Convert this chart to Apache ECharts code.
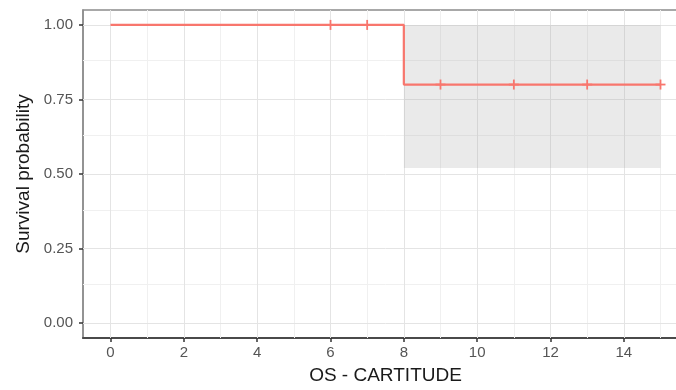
<!DOCTYPE html>
<html>
<head>
<meta charset="utf-8">
<script src="https://cdn.jsdelivr.net/npm/echarts@6/dist/echarts.min.js"></script>
<style>
html,body{margin:0;padding:0;background:#fff;overflow:hidden;width:676px;height:390px;}
#chart{width:700px;height:390px;}
</style>
</head>
<body>
<div id="chart"></div>
<script>
// Kaplan-Meier step curve
const stepTimes = [0, 8, 15];
const stepSurv = [1.0, 0.8, 0.8];
// censoring marks
const censorTimes = [6, 7, 9, 11, 13, 15];
const censorSurv = [1.0, 1.0, 0.8, 0.8, 0.8, 0.8];
// confidence band
const bandStart = 8;
const bandEnd = 15;
const bandLower = 0.52;
const bandUpper = 1.0;
// ticks
const xTicks = [0, 2, 4, 6, 8, 10, 12, 14];
const xMinor = [1, 3, 5, 7, 9, 11, 13, 15];
const yTicks = [0, 0.25, 0.5, 0.75, 1.0];
const yMinor = [0.125, 0.375, 0.625, 0.875];
const xTitle = 'OS - CARTITUDE';
const yTitle = 'Survival probability';

const chart = echarts.init(document.getElementById('chart'), null, {renderer: 'canvas'});
const font = 'Liberation Sans, Arial, sans-serif';
const redCol = '#F8766D';

function gridSeries(vals, axis, color, width, z) {
  return {
    type: 'line', data: [], z: z, silent: true,
    markLine: {
      silent: true, symbol: ['none', 'none'], animation: false, z: z,
      label: {show: false},
      lineStyle: {color: color, width: width, type: 'solid'},
      data: vals.map(v => (axis === 'x' ? {xAxis: v} : {yAxis: v}))
    }
  };
}

const option = {
  animation: false,
  backgroundColor: '#fff',
  grid: {left: 83, right: 12, top: 10, bottom: 49, show: true, borderColor: '#8c8c8c', borderWidth: 1.5, backgroundColor: 'transparent'},
  xAxis: {
    type: 'value', min: -0.75, max: 15.75,
    name: xTitle, nameLocation: 'middle', nameGap: 28,
    nameTextStyle: {fontFamily: font, fontSize: 19, color: '#1a1a1a'},
    axisLine: {show: true, onZero: false, lineStyle: {color: '#4a4a4a', width: 2}},
    axisTick: {show: true, length: 4, customValues: xTicks, lineStyle: {color: '#333', width: 1.5}},
    axisLabel: {customValues: xTicks, fontFamily: font, fontSize: 15, color: '#555', margin: 7},
    splitLine: {show: false}
  },
  yAxis: {
    type: 'value', min: -0.05, max: 1.05,
    name: yTitle, nameLocation: 'middle', nameGap: 46, nameRotate: 90,
    nameTextStyle: {fontFamily: font, fontSize: 19, color: '#1a1a1a'},
    axisLine: {show: true, onZero: false, lineStyle: {color: '#8c8c8c', width: 1.5}},
    axisTick: {show: true, length: 4, customValues: yTicks, lineStyle: {color: '#333', width: 1.5}},
    axisLabel: {customValues: yTicks, fontFamily: font, fontSize: 15, color: '#555', margin: 10,
      formatter: v => v.toFixed(2)},
    splitLine: {show: false}
  },
  series: [
    gridSeries(xMinor, 'x', '#f0f0f0', 1, 1),
    gridSeries(yMinor, 'y', '#f0f0f0', 1, 1),
    gridSeries(xTicks, 'x', '#e4e4e4', 1, 1),
    gridSeries(yTicks, 'y', '#e4e4e4', 1, 1),
    {
      type: 'line', data: [], z: 2, silent: true,
      markArea: {
        silent: true, z: 2,
        itemStyle: {color: 'rgba(160,160,160,0.22)'},
        data: [[{xAxis: bandStart, yAxis: bandLower}, {xAxis: bandEnd, yAxis: bandUpper}]]
      }
    },
    {
      type: 'line', step: 'end', z: 3,
      data: stepTimes.map((t, i) => [t, stepSurv[i]]),
      showSymbol: false, symbol: 'none',
      lineStyle: {color: redCol, width: 2.2}
    },
    {
      type: 'custom', z: 4,
      data: censorTimes.map((t, i) => [t, censorSurv[i]]),
      renderItem: function (params, api) {
        const p = api.coord([api.value(0), api.value(1)]);
        const h = 5;
        return {
          type: 'group',
          children: [
            {type: 'line', shape: {x1: p[0], y1: p[1] - h, x2: p[0], y2: p[1] + h}, style: {stroke: redCol, lineWidth: 1.8}},
            {type: 'line', shape: {x1: p[0] - h, y1: p[1], x2: p[0] + h, y2: p[1]}, style: {stroke: redCol, lineWidth: 1.8}}
          ]
        };
      }
    }
  ]
};
chart.setOption(option);
</script>
</body>
</html>
